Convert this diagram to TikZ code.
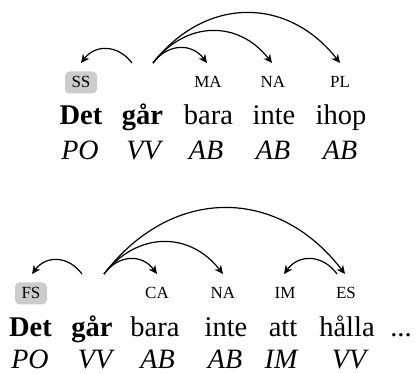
\documentclass[tikz,border=0pt]{standalone}
\usepackage{fontspec}
\setmainfont{Liberation Serif}
\usetikzlibrary{arrows.meta}
\definecolor{boxgray}{HTML}{CCCCCC}
\tikzset{
  word/.style={anchor=base, inner sep=0pt, font=\fontsize{28.5}{30}\selectfont},
  head/.style={word, font=\fontsize{28.5}{30}\selectfont\bfseries},
  tag/.style={anchor=base, inner sep=0pt, text depth=0pt, font=\fontsize{28}{30}\selectfont\itshape},
  lab/.style={anchor=base, inner sep=0pt, font=\fontsize{17}{18}\selectfont},
  hl/.style={lab, fill=boxgray, rounded corners=4.5pt, text height=11pt, text depth=0pt,
             inner ysep=5.5pt, minimum width=32pt},
  dep/.style={line width=1.2pt, -{Stealth[length=8.5pt, width=8pt, inset=2.5pt]}}
}
\begin{document}
\begin{tikzpicture}[x=1pt, y=-1pt]
\useasboundingbox (0,0) rectangle (418,374);

% ---- first sentence ----
\node[hl]  (ss) at (81,88) {SS};
\node[lab] (ma) at (208,88) {MA};
\node[lab] (na1) at (273,88) {NA};
\node[lab] (pl) at (340,88) {PL};

\node[head] (det1) at (81,125) {Det};
\node[head] (gar1) at (142.5,125) {går};
\node[word] (bara1) at (208.5,125) {bara};
\node[word] (inte1) at (274,125) {inte};
\node[word] (ihop) at (341,125) {ihop};

\node[tag] (po1) at (80,160) {PO};
\node[tag] (vv1) at (143.5,160) {VV};
\node[tag] (ab1) at (206,160) {AB};
\node[tag] (ab2) at (273,160) {AB};
\node[tag] (ab3) at (340,160) {AB};

\coordinate (g1l) at (132,63);
\coordinate (g1r) at (153,63);
\coordinate (ssT) at (81,63);
\coordinate (maT) at (207,63);
\coordinate (na1T) at (272,63);
\coordinate (plT) at (340,63);

\draw[dep] (g1l) .. controls (117.7,44.3) and (95.3,44.3) .. (ssT);
\draw[dep] (g1r) .. controls (168.1,43) and (191.9,43) .. (maT);
\draw[dep] (g1r) .. controls (186.3,20.3) and (238.7,20.3) .. (na1T);
\draw[dep] (g1r) .. controls (205.4,-3.7) and (287.6,-3.7) .. (plT);

% ---- second sentence ----
\node[hl]  (fs) at (31,299) {FS};
\node[lab] (ca) at (157,299) {CA};
\node[lab] (na2) at (223,299) {NA};
\node[lab] (im) at (285,299) {IM};
\node[lab] (es) at (346,299) {ES};

\node[head] (det2) at (30.5,337) {Det};
\node[head] (gar2) at (92,337) {går};
\node[word] (bara2) at (155,337) {bara};
\node[word] (inte2) at (226,337) {inte};
\node[word] (att) at (283,337) {att};
\node[word] (halla) at (347,337) {hålla};
\node[word] (dots) at (401,337) {...};

\node[tag] (po2) at (30,368) {PO};
\node[tag] (vv2) at (95,368) {VV};
\node[tag] (ab4) at (157.5,368) {AB};
\node[tag] (ab5) at (225,368) {AB};
\node[tag] (im2) at (281,368) {IM};
\node[tag] (vv3) at (349,368) {VV};

\coordinate (g2l) at (82,274);
\coordinate (g2r) at (104,274);
\coordinate (hl2) at (337,274);
\coordinate (fsT) at (32,274);
\coordinate (caT) at (157,274);
\coordinate (na2T) at (223,274);
\coordinate (imT) at (284,274);
\coordinate (esT) at (345,274);

\draw[dep] (g2l) .. controls (68,255.3) and (46,255.3) .. (fsT);
\draw[dep] (g2r) .. controls (118.8,254) and (142.2,254) .. (caT);
\draw[dep] (g2r) .. controls (137.3,231.3) and (189.7,231.3) .. (na2T);
\draw[dep] (g2r) .. controls (171.5,186) and (277.5,186) .. (esT);
\draw[dep] (hl2) .. controls (322.2,254) and (298.8,254) .. (imT);
\end{tikzpicture}
\end{document}
